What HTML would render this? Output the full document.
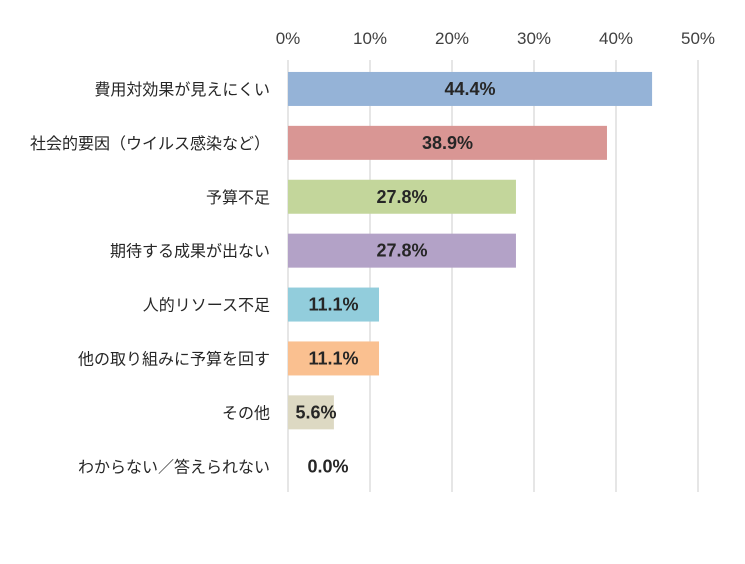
<!DOCTYPE html>
<html><head><meta charset="utf-8"><style>
html,body{margin:0;padding:0;background:#fff;}
svg{display:block;font-family:"Liberation Sans","Noto Sans CJK JP",sans-serif;}
</style></head><body>
<svg id="chart" width="745" height="564"></svg>
<script>
const categories=["費用対効果が見えにくい","社会的要因（ウイルス感染など）","予算不足","期待する成果が出ない","人的リソース不足","他の取り組みに予算を回す","その他","わからない／答えられない"];
const values=[44.4,38.9,27.8,27.8,11.1,11.1,5.6,0.0];
const colors=["#95b3d7","#d99694","#c3d69b","#b3a2c7","#92cddc","#fac090","#ddd9c3","#cccccc"];
const ticks=[0,10,20,30,40,50];
const ns="http://www.w3.org/2000/svg";
const svg=document.getElementById('chart');
const x0=288,pxPer=8.2,top0=62,rowH=53.9,barH=34;
const xs=v=>x0+v*pxPer;
const yc=i=>top0+rowH*i+rowH/2;
function mk(t,a){const e=document.createElementNS(ns,t);for(const k in a)e.setAttribute(k,a[k]);svg.appendChild(e);return e;}
ticks.forEach(t=>{
  const g=mk('line',{x1:xs(t),x2:xs(t),y1:60,y2:492,stroke:'#d9d9d9','stroke-width':1.3});
  
  
  const l=mk('text',{x:xs(t),y:44,'text-anchor':'middle','font-size':17,fill:'#404040'});
  l.textContent=t+'%';
  
  
});
categories.forEach((c,i)=>{
  const y=yc(i);
  const lab=mk('text',{x:270,y:y+6,'text-anchor':'end','font-size':16,fill:'#262626'});
  lab.textContent=c;
  
  
  const w=xs(values[i])-x0;
  if(w>0){
    const r=mk('rect',{x:x0,y:y-barH/2,width:w,height:barH,fill:colors[i]});
    
    
  }
  const cx=Math.max(x0+w/2,x0+28+(values[i]===0?12:0));
  const v=mk('text',{x:cx,y:y+6,'text-anchor':'middle','font-size':18,'font-weight':'bold',fill:'#262626'});
  v.textContent=values[i].toFixed(1)+'%';
  
  
});
</script>
</body></html>
